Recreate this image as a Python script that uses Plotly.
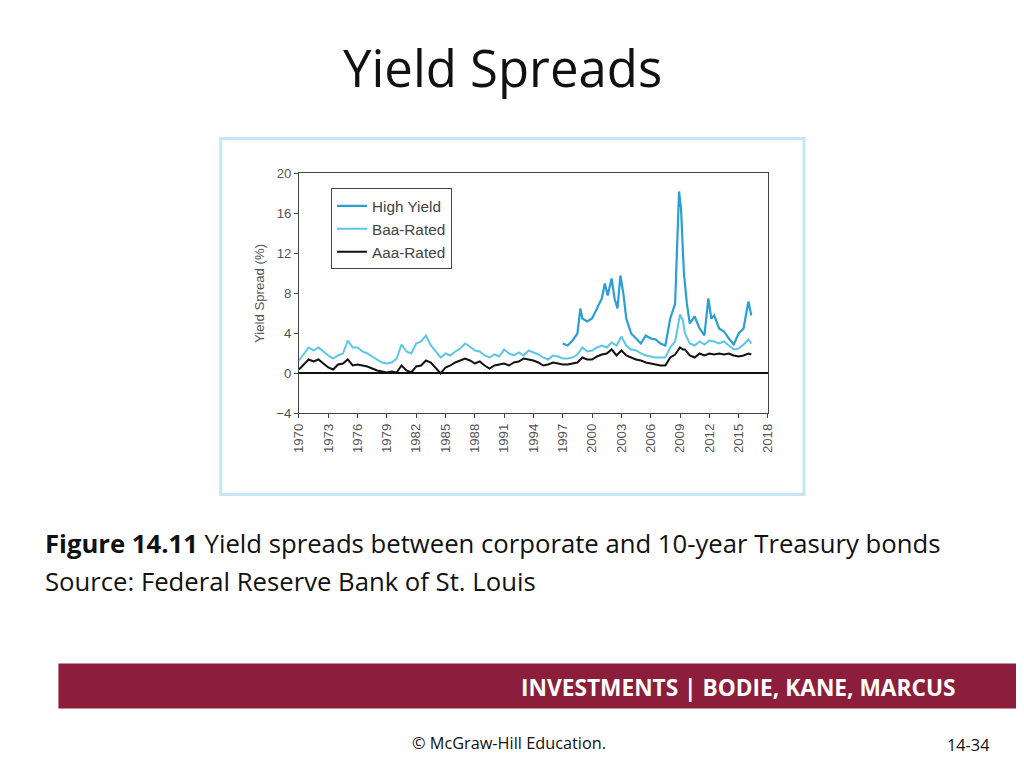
import plotly.graph_objects as go

baa_x = [1970,1970.5,1971,1971.5,1972,1972.5,1973,1973.5,1974,1974.5,1975,1975.5,1976,1976.5,1977,1977.5,1978,1978.5,1979,1979.5,1980,1980.5,1981,1981.5,1982,1982.5,1983,1983.5,1984,1984.5,1985,1985.5,1986,1986.5,1987,1987.5,1988,1988.5,1989,1989.5,1990,1990.5,1991,1991.5,1992,1992.5,1993,1993.5,1994,1994.5,1995,1995.5,1996,1996.5,1997,1997.5,1998,1998.5,1999,1999.5,2000,2000.5,2001,2001.5,2002,2002.5,2003,2003.5,2004,2004.5,2005,2005.5,2006,2006.5,2007,2007.5,2008,2008.5,2009,2009.3,2009.5,2010,2010.5,2011,2011.5,2012,2012.5,2013,2013.5,2014,2014.5,2015,2015.5,2016,2016.3]
baa_y = [1.3,2.0,2.6,2.3,2.6,2.2,1.8,1.5,1.8,2.0,3.3,2.6,2.6,2.2,2.0,1.7,1.4,1.1,1.0,1.1,1.5,2.9,2.2,2.0,3.0,3.2,3.8,2.8,2.2,1.6,2.0,1.8,2.2,2.5,3.0,2.7,2.3,2.2,1.8,1.6,1.9,1.7,2.4,2.0,1.8,2.1,1.8,2.3,2.1,1.9,1.6,1.4,1.8,1.7,1.5,1.5,1.6,1.9,2.6,2.2,2.3,2.6,2.8,2.6,3.1,2.8,3.7,2.8,2.4,2.3,2.0,1.8,1.7,1.6,1.6,1.6,2.6,3.2,5.9,5.3,4.0,3.0,2.8,3.2,2.9,3.3,3.2,3.0,3.2,2.8,2.4,2.5,2.9,3.4,3.0]
aaa_y = [0.4,0.9,1.4,1.2,1.4,1.0,0.6,0.4,0.9,1.0,1.4,0.8,0.9,0.8,0.7,0.5,0.3,0.2,0.1,0.2,0.1,0.8,0.3,0.1,0.7,0.8,1.3,1.1,0.5,0.0,0.6,0.8,1.1,1.3,1.5,1.3,1.0,1.2,0.8,0.5,0.8,0.9,1.0,0.8,1.1,1.2,1.5,1.4,1.3,1.1,0.8,0.9,1.1,1.0,0.9,0.9,1.0,1.1,1.6,1.4,1.4,1.7,1.9,2.0,2.4,1.8,2.3,1.8,1.6,1.4,1.3,1.1,1.0,0.9,0.8,0.8,1.6,1.9,2.6,2.4,2.4,1.8,1.6,2.0,1.8,2.0,1.9,2.0,1.9,2.0,1.8,1.7,1.8,2.0,1.9]
hy_x = [1997,1997.5,1998,1998.5,1998.8,1999,1999.5,2000,2000.5,2001,2001.3,2001.6,2002,2002.3,2002.6,2002.9,2003.2,2003.5,2004,2004.5,2005,2005.5,2006,2006.5,2007,2007.5,2008,2008.5,2008.9,2009.1,2009.4,2009.7,2010,2010.5,2011,2011.5,2011.9,2012.2,2012.5,2013,2013.5,2014,2014.5,2015,2015.5,2016,2016.3]
hy_y = [3.0,2.8,3.3,4.0,6.5,5.5,5.2,5.5,6.5,7.5,9.0,7.8,9.5,7.5,6.5,9.8,8.0,5.5,4.0,3.5,3.0,3.8,3.5,3.4,3.0,2.8,5.5,7.0,18.2,16.5,10.0,7.0,5.0,5.7,4.5,3.8,7.5,5.5,5.8,4.5,4.2,3.5,2.9,4.0,4.5,7.2,5.8]
x_ticks = list(range(1970, 2019, 3))
y_ticks = [-4, 0, 4, 8, 12, 16, 20]

fig = go.Figure()
fig.add_trace(go.Scatter(x=hy_x, y=hy_y, name="High Yield", mode="lines", line=dict(color="#2a9fd4", width=2.2)))
fig.add_trace(go.Scatter(x=baa_x, y=baa_y, name="Baa-Rated", mode="lines", line=dict(color="#5cc6ea", width=2)))
fig.add_trace(go.Scatter(x=baa_x, y=aaa_y, name="Aaa-Rated", mode="lines", line=dict(color="#111111", width=2)))

W, H = 1008, 752
OFF = 8
SX, AX = 0.983, 9.8
SY, AY = 0.980, 6.7
def px(x): return ((x - AX) / SX - OFF) / W
def py(y): return 1 - ((y - AY) / SY - OFF) / H
def fs(s): return round(s / SX, 1)

tickfont = dict(family="Liberation Sans", size=fs(13), color="#555")
fig.update_layout(
    width=W, height=H, margin=dict(l=0, r=0, t=0, b=0),
    paper_bgcolor="white", plot_bgcolor="white",
    showlegend=True,
    legend=dict(x=px(332), y=py(188), xanchor="left", yanchor="top", bgcolor="white",
                bordercolor="#444", borderwidth=1, tracegroupgap=2,
                font=dict(family="Liberation Sans", size=fs(15), color="#444")),
    xaxis=dict(domain=[px(300), px(768)], range=[1970, 2018], tickvals=x_ticks,
               ticktext=[str(t) for t in x_ticks], tickangle=-90, tickfont=tickfont,
               showgrid=False, zeroline=False, showline=True, linecolor="#444", mirror=True,
               ticks="outside", ticklen=4, tickcolor="#444"),
    yaxis=dict(domain=[py(413), py(173)], range=[-4, 20], tickvals=y_ticks,
               ticktext=["\u22124" if v < 0 else str(v) for v in y_ticks], tickfont=tickfont,
               showgrid=False, zeroline=True, zerolinecolor="#111", zerolinewidth=1.5,
               showline=True, linecolor="#444", mirror=True, ticks="outside", ticklen=4, tickcolor="#444",
               title=dict(text="Yield Spread (%)", font=dict(family="Liberation Sans", size=fs(13), color="#555"), standoff=8)),
    shapes=[
        dict(type="rect", xref="paper", yref="paper", x0=px(222), x1=px(804), y0=py(494), y1=py(138),
             line=dict(color="#c5e6f5", width=3), layer="below"),
        dict(type="rect", xref="paper", yref="paper", x0=px(60), x1=px(1024), y0=py(708), y1=py(663),
             fillcolor="#8c1d3b", line=dict(width=0)),
    ],
    annotations=[
        dict(text="Yield Spreads", x=px(503), y=py(67), xref="paper", yref="paper", showarrow=False,
             font=dict(family="Open Sans", size=fs(50), color="#111"), xanchor="center", yanchor="middle"),
        dict(text="<b>Figure 14.11</b> Yield spreads between corporate and 10-year Treasury bonds",
             x=px(45), y=py(543), xref="paper", yref="paper", showarrow=False, xanchor="left", yanchor="middle",
             font=dict(family="Open Sans", size=fs(25.3), color="#111")),
        dict(text="Source: Federal Reserve Bank of St. Louis",
             x=px(45), y=py(581), xref="paper", yref="paper", showarrow=False, xanchor="left", yanchor="middle",
             font=dict(family="Open Sans", size=fs(25.3), color="#111")),
        dict(text="<b>INVESTMENTS | BODIE, KANE, MARCUS</b>", x=px(958), y=py(687), xref="paper", yref="paper",
             showarrow=False, xanchor="right", yanchor="middle", font=dict(family="Open Sans", size=fs(22.3), color="white")),
        dict(text="© McGraw-Hill Education.", x=px(510), y=py(743), xref="paper", yref="paper", showarrow=False,
             xanchor="center", yanchor="middle", font=dict(family="Open Sans", size=fs(16), color="#111")),
        dict(text="14-34", x=px(968), y=py(745), xref="paper", yref="paper", showarrow=False,
             xanchor="center", yanchor="middle", font=dict(family="Open Sans", size=fs(16), color="#111")),
    ],
)
fig.write_html("out.html")
